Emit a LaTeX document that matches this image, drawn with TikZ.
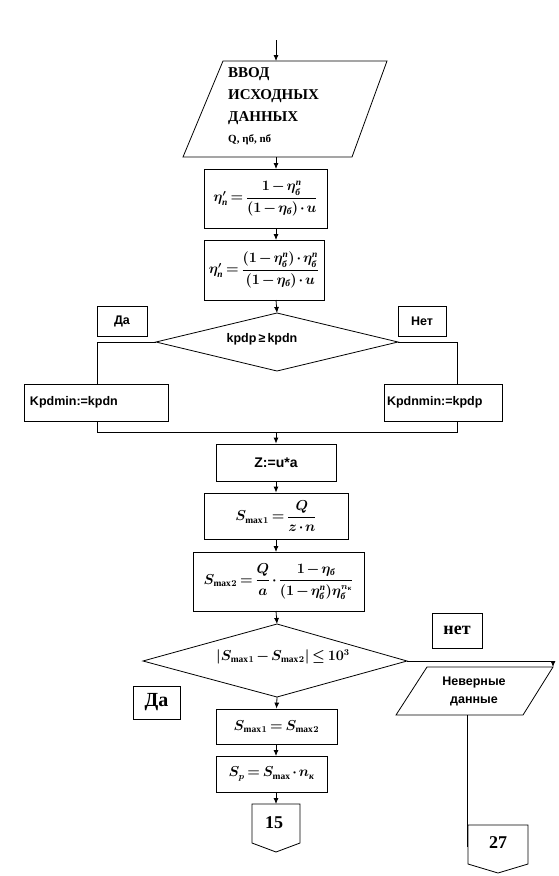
\documentclass[tikz,border=0pt]{standalone}
\usepackage{amsmath}
\usepackage{fontspec}
\setmainfont{Liberation Serif}
\newfontfamily\arial{Liberation Sans}
\usetikzlibrary{arrows.meta}
\newcommand{\cy}[1]{\text{\bfseries\itshape #1}}
\newcommand{\mxs}{\text{\bfseries max}}
\newcommand{\fm}[1]{$\thinmuskip=1mu\relax\medmuskip=2mu\relax\thickmuskip=3mu\relax #1$}
\tikzset{
  x=1pt, y=-1pt,
  line/.style={draw=black, line width=0.8pt},
  arr/.style={line, -{Latex[length=6pt,width=5pt]}},
  box/.style={draw=black, line width=0.8pt, inner sep=0pt},
  sans/.style={font=\arial\bfseries\fontsize{12.5}{14}\selectfont},
  serb/.style={font=\bfseries\fontsize{15}{17}\selectfont},
  frm/.style={font=\boldmath\fontsize{13.5}{15}\selectfont},
}
\begin{document}
\begin{tikzpicture}
\useasboundingbox (0,0) rectangle (558,876);
% input parallelogram
\coordinate (in) at (276,40);
\draw[line] (223,61) -- (387,61) -- (352,157) -- (183,157) -- cycle;
\coordinate (p1t) at (276,61);
\coordinate (p1b) at (276,157);
\node[serb, anchor=north west, align=left, inner sep=0pt] (ptext) at (228,67)
  {ВВОД\\[5pt]ИСХОДНЫХ\\[5pt]ДАННЫХ\\[4pt]{\fontsize{11}{13}\selectfont Q, ηб, nб}};
\draw[arr] (in) -- (p1t);

% formula boxes
\node[box, minimum width=123, minimum height=59, frm] (b1) at (265.5,198.5)
  {\fm{\eta^{\prime}_{\cy{п}}=\dfrac{1-\eta_{\cy{б}}^{\cy{п}}}{(1-\eta_{\cy{б}})\cdot u}}};
\node[box, minimum width=120, minimum height=60, frm] (b2) at (264,270)
  {\fm{\eta^{\prime}_{\cy{п}}=\dfrac{(1-\eta_{\cy{б}}^{\cy{п}})\cdot\eta_{\cy{б}}^{\cy{п}}}{(1-\eta_{\cy{б}})\cdot u}}};
\draw[arr] (p1b) -- (276,169);
\draw[arr] (276,228) -- (276,240);

% decision 1
\coordinate (d1t) at (277,313);
\coordinate (d1l) at (156,342);
\coordinate (d1r) at (398,342);
\coordinate (d1b) at (277,371);
\draw[line] (d1t) -- (d1r) -- (d1b) -- (d1l) -- cycle;
\node[sans] (d1) at (262,339) {kpdp\,≥\,kpdn};
\draw[arr] (276,300) -- (d1t);
\node[box, minimum width=50, minimum height=30, sans] (da1) at (122,321) {Да};
\node[box, minimum width=48, minimum height=30, sans] (net1) at (422,321) {Нет};

\node[box, minimum width=144, minimum height=37, sans, text width=132, align=left] (k1) at (96,402.5) {Kpdmin:=kpdn};
\node[box, minimum width=118, minimum height=37, sans, text width=112, align=left] (k2) at (443,402.5) {Kpdnmin:=kpdp};
\draw[line] (d1l) -- (97,342) -- (97,384);
\draw[line] (d1r) -- (457,342) -- (457,384);
\coordinate (j1) at (276,432);
\draw[line] (97,421) -- (97,432) -- (457,432) -- (457,421);

% Z box
\node[box, minimum width=120, minimum height=37, sans, font=\arial\bfseries\fontsize{14}{16}\selectfont] (z) at (276,462.5) {Z:=u*a};
\draw[arr] (j1) -- (z.north);

\node[box, minimum width=144, minimum height=46, frm] (s1) at (276,516)
  {\fm{S_{\mxs\,1}=\dfrac{Q}{z\cdot n}}};
\draw[arr] (z.south) -- (s1.north);
\node[box, minimum width=171, minimum height=59, frm] (s2) at (278.5,581.5)
  {\fm{S_{\mxs\,2}=\dfrac{Q}{a}\cdot\dfrac{1-\eta_{\cy{б}}}{(1-\eta_{\cy{б}}^{\cy{п}})\eta_{\cy{б}}^{n_{\cy{к}}}}}};
\draw[arr] (s1.south) -- (276,552);

% decision 2
\coordinate (d2t) at (277,624);
\coordinate (d2l) at (143,661);
\coordinate (d2r) at (407,661);
\coordinate (d2b) at (277,697);
\draw[line] (d2t) -- (d2r) -- (d2b) -- (d2l) -- cycle;
\node[frm] (d2) at (283,657) {\fm{\left|S_{\mxs\,1}-S_{\mxs\,2}\right|\le 10^{3}}};
\draw[arr] (276,611) -- (d2t);
\node[box, minimum width=50, minimum height=35, serb, font=\bfseries\fontsize{18}{20}\selectfont] (net2) at (457,630.5) {нет};
\node[box, minimum width=47, minimum height=33, serb, font=\bfseries\fontsize{20}{22}\selectfont] (da2) at (156.5,702.5) {Да};

% wrong data parallelogram
\draw[line] (427,667) -- (553,667) -- (523,715) -- (396,715) -- cycle;
\node[sans, align=center] (nev) at (474,691) {Неверные\\[4pt]данные};
\coordinate (nevt) at (553,667);
\draw[arr] (d2r) -- (553,661) -- (nevt);
\draw[line] (467,715) -- (467,847);

% yes branch
\node[box, minimum width=121, minimum height=35, frm] (s3) at (276.5,726.5)
  {\fm{S_{\mxs\,1}=S_{\mxs\,2}}};
\draw[arr] (d2b) -- (s3.north);
\node[box, minimum width=111, minimum height=36, frm] (sp) at (271.5,774)
  {\fm{S_{p}=S_{\mxs}\cdot n_{\cy{к}}}};
\draw[arr] (276,744) -- (276,756);

% off-page connectors
\draw[line] (252,804) -- (300,804) -- (300,843) -- (276,852) -- (252,843) -- cycle;
\node[serb, font=\bfseries\fontsize{18}{20}\selectfont] (c15) at (274,823) {15};
\draw[arr] (276,792) -- (276,804);
\draw[line] (468,825) -- (528,825) -- (528,864) -- (498,873) -- (468,864) -- cycle;
\node[serb, font=\bfseries\fontsize{18}{20}\selectfont] (c27) at (498,843) {27};
\end{tikzpicture}
\end{document}
